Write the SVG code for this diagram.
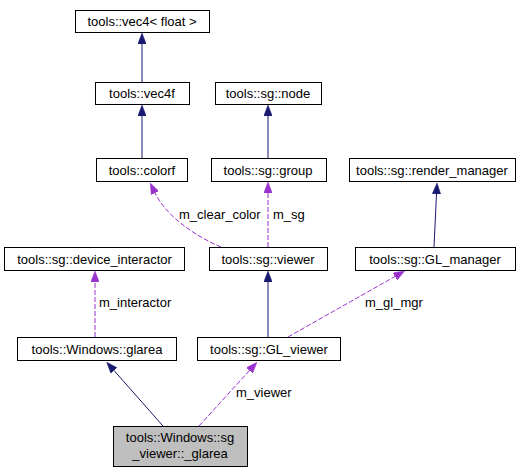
<svg xmlns="http://www.w3.org/2000/svg" width="532" height="472" viewBox="0 0 532 472">
<style>
.n rect{fill:#fff;stroke:#000;stroke-width:1}
.n text{font-family:"Liberation Sans",Arial,sans-serif;font-size:13px;text-anchor:middle;fill:#000}
.h rect{fill:#bfbfbf}
.inh{fill:none;stroke:#191970;stroke-width:1}
.use{fill:none;stroke:#9a32cd;stroke-width:1;stroke-dasharray:5,2}
.lbl{font-family:"Liberation Sans",Arial,sans-serif;font-size:13px;fill:#000}
</style>
<defs>
<marker id="ai" viewBox="0 0 11 8.4" refX="0" refY="4.2" markerUnits="userSpaceOnUse" markerWidth="11" markerHeight="8.4" orient="auto"><path d="M0,0 L11,4.2 L0,8.4 z" fill="#191970" stroke="#191970" stroke-width="0.5"/></marker>
<marker id="au" viewBox="0 0 11 8.4" refX="0" refY="4.2" markerUnits="userSpaceOnUse" markerWidth="11" markerHeight="8.4" orient="auto"><path d="M0,0 L11,4.2 L0,8.4 z" fill="#9a32cd" stroke="#9a32cd" stroke-width="0.5"/></marker>
</defs>
<g id="edges">
<path class="inh" d="M142,82 L142,44" marker-end="url(#ai)"/>
<path class="inh" d="M142,158 L142,116" marker-end="url(#ai)"/>
<path class="inh" d="M268,158 L268,116" marker-end="url(#ai)"/>
<path class="inh" d="M434,247 L436.5,194" marker-end="url(#ai)"/>
<path class="inh" d="M268,337 L268,282" marker-end="url(#ai)"/>
<path class="inh" d="M163,426 L114,370.5" marker-end="url(#ai)"/>
<path class="use" d="M221,247 C195,236 166,216 155,193" marker-end="url(#au)"/>
<path class="use" d="M268,247 L268,193" marker-end="url(#au)"/>
<path class="use" d="M95,337 L95,282" marker-end="url(#au)"/>
<path class="use" d="M288,337 L395,276.5" marker-end="url(#au)"/>
<path class="use" d="M199,426 L249.5,370.5" marker-end="url(#au)"/>
<text class="lbl" x="179" y="219">m_clear_color</text>
<text class="lbl" x="273" y="219">m_sg</text>
<text class="lbl" x="99" y="307">m_interactor</text>
<text class="lbl" x="365" y="307">m_gl_mgr</text>
<text class="lbl" x="236" y="397">m_viewer</text>
</g>
<g id="vec4float" class="n"><rect x="75.5" y="10.5" width="134" height="22"/><text x="142" y="26">tools::vec4&lt; float &gt;</text></g>
<g id="vec4f" class="n"><rect x="95.5" y="82.5" width="94" height="22"/><text x="142" y="98">tools::vec4f</text></g>
<g id="colorf" class="n"><rect x="96.5" y="158.5" width="91" height="23"/><text x="142" y="174.5">tools::colorf</text></g>
<g id="node" class="n"><rect x="215.5" y="82.5" width="106" height="22"/><text x="268" y="98">tools::sg::node</text></g>
<g id="group" class="n"><rect x="211.5" y="158.5" width="115" height="23"/><text x="268" y="174.5">tools::sg::group</text></g>
<g id="render_manager" class="n"><rect x="349.5" y="158.5" width="166" height="23"/><text x="432" y="174.5">tools::sg::render_manager</text></g>
<g id="device_interactor" class="n"><rect x="4.5" y="247.5" width="180" height="23"/><text x="94.5" y="263.5">tools::sg::device_interactor</text></g>
<g id="viewer" class="n"><rect x="209.5" y="247.5" width="118" height="23"/><text x="268" y="263.5">tools::sg::viewer</text></g>
<g id="GL_manager" class="n"><rect x="355.5" y="247.5" width="160" height="23"/><text x="435" y="263.5">tools::sg::GL_manager</text></g>
<g id="glarea" class="n"><rect x="17.5" y="337.5" width="159" height="23"/><text x="97" y="353.5">tools::Windows::glarea</text></g>
<g id="GL_viewer" class="n"><rect x="197.5" y="337.5" width="143" height="23"/><text x="269" y="353.5">tools::sg::GL_viewer</text></g>
<g id="sg_viewer_glarea" class="n h"><rect x="113.5" y="426.5" width="134" height="40"/><text x="180" y="442">tools::Windows::sg</text><text x="180" y="458">_viewer::_glarea</text></g>
</svg>
